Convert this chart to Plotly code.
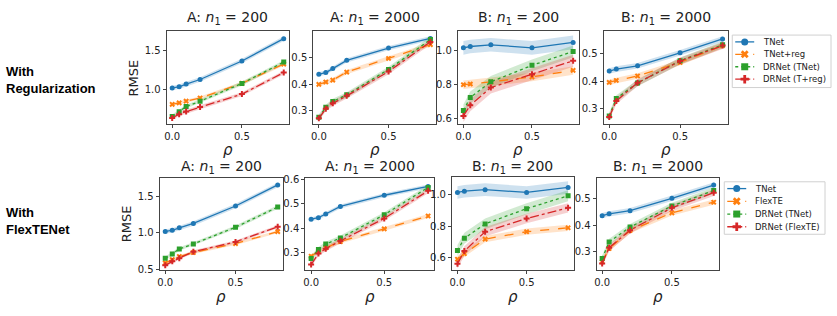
import plotly.graph_objects as go

W, H = 837, 316

# ---------------- data ----------------
rho_A = [0.0, 0.05, 0.1, 0.2, 0.5, 0.8]
rho_B = [0.0, 0.05, 0.2, 0.5, 0.8]

tnet_A200 = [1.02, 1.035, 1.07, 1.13, 1.37, 1.66]
drtnet_A200 = [0.65, 0.71, 0.778, 0.848, 1.078, 1.356]
treg_A200 = [0.807, 0.827, 0.849, 0.89, 1.08, 1.33]
drtreg_A200 = [0.63, 0.68, 0.714, 0.773, 0.94, 1.22]
flex_A200 = [0.587, 0.632, 0.675, 0.73, 0.853, 1.018]
drflex_A200 = [0.556, 0.609, 0.653, 0.742, 0.876, 1.085]

tnet_A2000 = [0.437, 0.443, 0.458, 0.489, 0.535, 0.571]
drtnet_A2000 = [0.276, 0.313, 0.335, 0.36, 0.455, 0.567]
treg_A2000 = [0.399, 0.408, 0.415, 0.445, 0.496, 0.548]
drtreg_A2000 = [0.272, 0.308, 0.328, 0.356, 0.447, 0.558]
flex_A2000 = [0.285, 0.305, 0.32, 0.345, 0.397, 0.45]
drflex_A2000 = [0.251, 0.296, 0.316, 0.348, 0.44, 0.553]

tnet_B200 = [1.015, 1.023, 1.033, 1.015, 1.047]
drtnet_B200 = [0.646, 0.723, 0.815, 0.912, 0.994]
treg_B200 = [0.798, 0.802, 0.815, 0.844, 0.882]
drtreg_B200 = [0.614, 0.677, 0.781, 0.859, 0.939]
flex_B200 = [0.59, 0.625, 0.718, 0.765, 0.79]
drflex_B200 = [0.561, 0.642, 0.765, 0.849, 0.917]

tnet_B2000 = [0.436, 0.443, 0.455, 0.502, 0.552]
drtnet_B2000 = [0.274, 0.337, 0.393, 0.473, 0.531]
treg_B2000 = [0.395, 0.402, 0.418, 0.467, 0.528]
drtreg_B2000 = [0.27, 0.328, 0.394, 0.472, 0.528]
flex_B2000 = [0.262, 0.312, 0.38, 0.447, 0.487]
drflex_B2000 = [0.255, 0.315, 0.381, 0.466, 0.523]

# confidence band half-widths per series (order: TNet, 2nd, DRNet(TNet), DRNet(..))
band_A200 = [0.03, 0.02, 0.025, 0.025]
band_A2000 = [0.008, 0.008, 0.01, 0.01]
band_B200 = [0.04, 0.025, 0.035, 0.035]
band_B2000 = [0.01, 0.01, 0.012, 0.012]
band_A200_flex = [0.03, 0.02, 0.025, 0.02]
band_B200_flex = [0.04, 0.02, 0.035, 0.03]

names_reg = ["TNet", "TNet+reg", "DRNet (TNet)", "DRNet (T+reg)"]
names_flex = ["TNet", "FlexTE", "DRNet (TNet)", "DRNet (FlexTE)"]

titles = ["A: <i>n</i><sub>1</sub> = 200", "A: <i>n</i><sub>1</sub> = 2000",
          "B: <i>n</i><sub>1</sub> = 200", "B: <i>n</i><sub>1</sub> = 2000"]

# ---------------- styles ----------------
colors = ["#1f77b4", "#ff7f0e", "#2ca02c", "#d62728"]
fills = ["rgba(31,119,180,0.22)", "rgba(255,127,14,0.22)",
         "rgba(44,160,44,0.22)", "rgba(214,39,40,0.22)"]
dashes = ["solid", "dash", "dot", "dashdot"]
symbols = ["circle", "x", "square", "cross"]
msizes = [5, 5, 5, 5]

# panel pixel boxes [x0, x1, y0, y1], y ranges, title centre y, rho label y
panels = [
    dict(box=[165, 288, 28, 124], yr=[0.546, 1.757], dt=0.5, rho=rho_A, ty=14, ly=150,
         series=[tnet_A200, treg_A200, drtnet_A200, drtreg_A200], band=band_A200),
    dict(box=[312, 435, 28, 124], yr=[0.249, 0.598], dt=0.1, rho=rho_A, ty=14, ly=150,
         series=[tnet_A2000, treg_A2000, drtnet_A2000, drtreg_A2000], band=band_A2000),
    dict(box=[457, 578, 28, 124], yr=[0.564, 1.113], dt=0.2, rho=rho_B, ty=14, ly=150,
         series=[tnet_B200, treg_B200, drtnet_B200, drtreg_B200], band=band_B200),
    dict(box=[603, 728, 28, 124], yr=[0.243, 0.58], dt=0.1, rho=rho_B, ty=14, ly=150,
         series=[tnet_B2000, treg_B2000, drtnet_B2000, drtreg_B2000], band=band_B2000),
    dict(box=[158, 282, 179, 274], yr=[0.487, 1.757], dt=0.5, rho=rho_A, ty=168, ly=302,
         series=[tnet_A200, flex_A200, drtnet_A200, drflex_A200], band=band_A200_flex),
    dict(box=[304, 433, 179, 274], yr=[0.228, 0.606], dt=0.1, rho=rho_A, ty=168, ly=302,
         series=[tnet_A2000, flex_A2000, drtnet_A2000, drflex_A2000], band=band_A2000),
    dict(box=[451, 573, 178, 274], yr=[0.52, 1.114], dt=0.2, rho=rho_B, ty=168, ly=302,
         series=[tnet_B200, flex_B200, drtnet_B200, drflex_B200], band=band_B200_flex),
    dict(box=[596, 719, 179, 274], yr=[0.23, 0.579], dt=0.1, rho=rho_B, ty=168, ly=302,
         series=[tnet_B2000, flex_B2000, drtnet_B2000, drflex_B2000], band=band_B2000),
]

# legend boxes (pixels): [x0, x1, y0, y1, first_row_y, row_step]
legend_boxes = [[732, 831, 32, 86, 39, 12.8], [724, 825, 183, 237, 190, 13.1]]

FONT = "DejaVu Sans"
AX = "#444444"

fig = go.Figure()
layout = dict(width=W, height=H, margin=dict(l=0, r=0, t=0, b=0),
              paper_bgcolor="white", plot_bgcolor="rgba(0,0,0,0)",
              font=dict(family=FONT, size=10, color="#222"), showlegend=False)
annotations = []
shapes = []

for i, p in enumerate(panels):
    k = i + 1
    xa = "x" if k == 1 else f"x{k}"
    ya = "y" if k == 1 else f"y{k}"
    x0, x1, y0, y1 = p["box"]
    for s in range(4):
        yv = p["series"][s]
        hw = p["band"][s]
        up = [v + hw for v in yv]
        lo = [v - hw for v in yv]
        fig.add_trace(go.Scatter(
            x=list(p["rho"]) + list(p["rho"])[::-1], y=up + lo[::-1],
            fill="toself", fillcolor=fills[s], line=dict(width=0),
            mode="lines", hoverinfo="skip", showlegend=False,
            xaxis=xa, yaxis=ya))
    row = 0 if i < 4 else 1
    names = names_reg if row == 0 else names_flex
    for s in range(4):
        fig.add_trace(go.Scatter(
            x=p["rho"], y=p["series"][s], mode="lines+markers",
            name=names[s], showlegend=False,
            line=dict(color=colors[s], width=1.3, dash=dashes[s]),
            marker=dict(symbol=symbols[s], size=msizes[s], color=colors[s],
                        line=dict(width=0)),
            xaxis=xa, yaxis=ya))
    axkey_x = "xaxis" if k == 1 else f"xaxis{k}"
    axkey_y = "yaxis" if k == 1 else f"yaxis{k}"
    layout[axkey_x] = dict(
        domain=[x0 / W, x1 / W], range=[-0.04, 0.84], anchor=ya,
        tickvals=[0.0, 0.5], tickformat=".1f", ticks="outside", ticklen=3,
        tickcolor=AX, showgrid=False, zeroline=False, showline=True,
        mirror=True, linecolor=AX, linewidth=1,
        tickfont=dict(size=10, color="#222"))
    layout[axkey_y] = dict(
        domain=[1 - y1 / H, 1 - y0 / H], range=p["yr"], anchor=xa,
        dtick=p["dt"], tick0=0, tickformat=".1f", ticks="outside", ticklen=3,
        tickcolor=AX, showgrid=False, zeroline=False, showline=True,
        mirror=True, linecolor=AX, linewidth=1,
        tickfont=dict(size=10, color="#222"))
    # title
    annotations.append(dict(
        text=titles[i % 4], x=(x0 + x1) / 2 / W, y=1 - p["ty"] / H,
        xref="paper", yref="paper", xanchor="center", yanchor="middle",
        showarrow=False, font=dict(family=FONT, size=14, color="#222")))
    # x label
    annotations.append(dict(
        text="<i>ρ</i>", x=(x0 + x1) / 2 / W, y=1 - p["ly"] / H,
        xref="paper", yref="paper", xanchor="center", yanchor="middle",
        showarrow=False, font=dict(family=FONT, size=15, color="#222")))

# ---------------- manual legends on an overlay pixel axis ----------------
layout["xaxis9"] = dict(domain=[0, 1], range=[0, W], visible=False, fixedrange=True)
layout["yaxis9"] = dict(domain=[0, 1], range=[H, 0], visible=False, fixedrange=True)
for row, (lx0, lx1, ly0, ly1, fy, step) in enumerate(legend_boxes):
    names = names_reg if row == 0 else names_flex
    shapes.append(dict(type="rect", xref="x9", yref="y9", x0=lx0, x1=lx1,
                       y0=ly0, y1=ly1, line=dict(color="#d0d0d0", width=1),
                       fillcolor="white", layer="below"))
    for s in range(4):
        yy = fy + s * step
        fig.add_trace(go.Scatter(
            x=[lx0 + 3, lx0 + 22], y=[yy, yy], mode="lines",
            line=dict(color=colors[s], width=1.3, dash=dashes[s]),
            hoverinfo="skip", showlegend=False, xaxis="x9", yaxis="y9"))
        fig.add_trace(go.Scatter(
            x=[lx0 + 12.5], y=[yy], mode="markers",
            marker=dict(symbol=symbols[s], size=7, color=colors[s],
                        line=dict(width=0)),
            hoverinfo="skip", showlegend=False, xaxis="x9", yaxis="y9"))
        annotations.append(dict(
            text=names[s], x=lx0 + 29, y=yy, xref="x9", yref="y9",
            xanchor="left", yanchor="middle", showarrow=False,
            font=dict(family=FONT, size=8.5, color="#222")))

# y labels
annotations.append(dict(text="RMSE", x=132 / W, y=1 - 76 / H, xref="paper",
                        yref="paper", textangle=-90, showarrow=False,
                        xanchor="center", yanchor="middle",
                        font=dict(family=FONT, size=13, color="#222")))
annotations.append(dict(text="RMSE", x=125 / W, y=1 - 226 / H, xref="paper",
                        yref="paper", textangle=-90, showarrow=False,
                        xanchor="center", yanchor="middle",
                        font=dict(family=FONT, size=13, color="#222")))
# row labels
annotations.append(dict(text="<b>With<br>Regularization</b>", x=2 / W, y=1 - 78 / H,
                        xref="paper", yref="paper", xanchor="left", yanchor="middle",
                        align="left", showarrow=False,
                        font=dict(family="Liberation Sans", size=13, color="#000")))
annotations.append(dict(text="<b>With<br>FlexTENet</b>", x=2 / W, y=1 - 223 / H,
                        xref="paper", yref="paper", xanchor="left", yanchor="middle",
                        align="left", showarrow=False,
                        font=dict(family="Liberation Sans", size=13, color="#000")))

layout["annotations"] = annotations
layout["shapes"] = shapes

fig.update_layout(**layout)
fig.write_html("out.html", config={"displayModeBar": False},
               post_script="document.body.style.margin='0';document.body.style.padding='0';")
